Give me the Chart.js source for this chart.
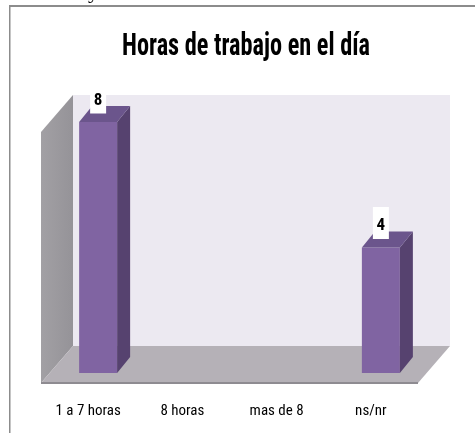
<!DOCTYPE html>
<html>
<head>
<meta charset="utf-8">
<script src="https://cdn.jsdelivr.net/npm/chart.js@4.4.1/dist/chart.umd.min.js"></script>
<style>
  html, body { margin: 0; padding: 0; background: #fff; }
  #wrap { position: relative; width: 475px; height: 433px; }
</style>
</head>
<body>
<div id="wrap"><canvas id="chart" width="475" height="433"></canvas></div>
<script>
// data
const categories = ['1 a 7 horas', '8 horas', 'mas de 8', 'ns/nr'];
const horas = [8, 0, 0, 4];
const yMax = 8;
const titulo = 'Horas de trabajo en el día';

const FONT = "'Roboto Condensed', 'DejaVu Sans Condensed', Roboto, sans-serif";

// 3d offsets (px) relative to the plane of the bars
const BACK = { dx: 22, dy: -27 };
const FRONT = { dx: -10, dy: 10 };
const DEPTH = { dx: 13, dy: -16 };

function poly(ctx, pts, fill) {
  ctx.beginPath();
  ctx.moveTo(pts[0][0], pts[0][1]);
  for (let i = 1; i < pts.length; i++) ctx.lineTo(pts[i][0], pts[i][1]);
  ctx.closePath();
  ctx.fillStyle = fill;
  ctx.fill();
}

const box3d = {
  id: 'box3d',
  beforeDatasetsDraw(chart) {
    const { ctx, chartArea: a, scales: { y } } = chart;
    const top = y.getPixelForValue(yMax);
    const base = y.getPixelForValue(0);
    ctx.save();
    // back wall
    poly(ctx, [[a.left + BACK.dx, top + BACK.dy], [a.right + BACK.dx, top + BACK.dy],
               [a.right + BACK.dx, base + BACK.dy], [a.left + BACK.dx, base + BACK.dy]], '#ECE9F1');
    // left wall
    const g = ctx.createLinearGradient(a.left + FRONT.dx, 0, a.left + BACK.dx, 0);
    g.addColorStop(0, '#A2A0A4');
    g.addColorStop(1, '#959398');
    poly(ctx, [[a.left + FRONT.dx, top + FRONT.dy], [a.left + BACK.dx, top + BACK.dy],
               [a.left + BACK.dx, base + BACK.dy], [a.left + FRONT.dx, base + FRONT.dy]], g);
    // floor
    poly(ctx, [[a.left + FRONT.dx, base + FRONT.dy], [a.right + FRONT.dx, base + FRONT.dy],
               [a.right + BACK.dx, base + BACK.dy], [a.left + BACK.dx, base + BACK.dy]], '#B5B1B7');
    ctx.strokeStyle = '#8E8B91';
    ctx.lineWidth = 2;
    ctx.beginPath();
    ctx.moveTo(a.left + FRONT.dx, base + FRONT.dy);
    ctx.lineTo(a.right + FRONT.dx, base + FRONT.dy);
    ctx.stroke();
    ctx.restore();
  },
  afterDatasetsDraw(chart) {
    const { ctx, scales: { y } } = chart;
    const meta = chart.getDatasetMeta(0);
    const wallTop = y.getPixelForValue(yMax) + BACK.dy;
    ctx.save();
    meta.data.forEach((el, i) => {
      if (!horas[i]) return;
      const l = el.x - el.width / 2, r = el.x + el.width / 2;
      const t = el.y, b = el.base;
      poly(ctx, [[r, t], [r + DEPTH.dx, t + DEPTH.dy], [r + DEPTH.dx, b + DEPTH.dy], [r, b]], '#56426F');
      poly(ctx, [[l, t], [r, t], [r + DEPTH.dx, t + DEPTH.dy], [l + DEPTH.dx, t + DEPTH.dy]], '#6B558C');
      // value label in white box
      const cy = t + DEPTH.dy - 5.5;
      const bt = Math.max(cy - 19, wallTop - 3);
      ctx.fillStyle = '#FFFFFF';
      ctx.fillRect(el.x - 8, bt, 16, cy + 13 - bt);
      ctx.fillStyle = '#000';
      ctx.font = 'bold 17px ' + FONT;
      ctx.textAlign = 'center';
      ctx.textBaseline = 'middle';
      ctx.fillText(String(horas[i]), el.x, cy);
    });
    ctx.restore();
  },
  afterDraw(chart) {
    const { ctx } = chart;
    ctx.save();
    // title, narrowed like the original
    ctx.font = 'bold 31px ' + FONT;
    const w = ctx.measureText(titulo).width;
    const sx = 248 / w;
    ctx.translate(246, 55);
    ctx.scale(sx, 1);
    ctx.fillStyle = '#000';
    ctx.textAlign = 'center';
    ctx.textBaseline = 'alphabetic';
    ctx.fillText(titulo, 0, 0);
    ctx.restore();

    ctx.save();
    // frame of the pasted picture
    ctx.strokeStyle = '#8C8C8C';
    ctx.lineWidth = 2;
    ctx.beginPath();
    ctx.moveTo(9, 6); ctx.lineTo(475, 6);
    ctx.stroke();
    ctx.lineWidth = 1.5;
    ctx.beginPath();
    ctx.moveTo(9.75, 5); ctx.lineTo(9.75, 433);
    ctx.stroke();
    // stray descender from the text above
    ctx.fillStyle = '#000';
    ctx.font = '22px "Liberation Serif"';
    ctx.textAlign = 'left';
    ctx.textBaseline = 'alphabetic';
    ctx.fillText('y', 88, -2);
    ctx.restore();
  }
};

new Chart(document.getElementById('chart'), {
  type: 'bar',
  data: {
    labels: categories,
    datasets: [{
      data: horas,
      backgroundColor: '#8064A2',
      borderWidth: 0,
      inflateAmount: 0,
      barThickness: 38
    }]
  },
  options: {
    responsive: false,
    animation: false,
    layout: { padding: { left: 51, right: 47, top: 122, bottom: 0 } },
    plugins: {
      legend: { display: false },
      tooltip: { enabled: false },
      title: { display: false }
    },
    scales: {
      x: {
        grid: { display: false, drawTicks: false },
        border: { display: false },
        ticks: { color: '#000', font: { family: FONT, size: 15 }, padding: 29, labelOffset: -10, maxRotation: 0 },
        afterFit(scale) { scale.height = 60; }
      },
      y: { display: false, min: 0, max: yMax }
    }
  },
  plugins: [box3d]
});
</script>
</body>
</html>
